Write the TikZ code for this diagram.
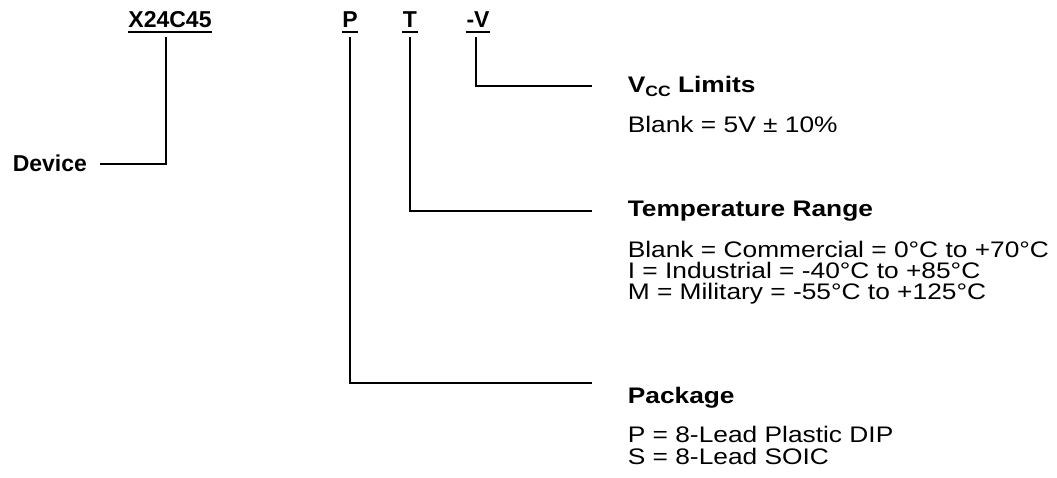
\documentclass[tikz,border=0pt]{standalone}
\usepackage{fontspec}
\setmainfont{Liberation Sans}
\newfontfamily\widefont{Liberation Sans}[FakeStretch=1.17]
\usetikzlibrary{positioning}

\begin{document}
\begin{tikzpicture}[x=1pt, y=-1pt, line width=1.6pt,
  every node/.style={inner sep=0pt, font=\fontsize{23}{23}\selectfont},
  code/.style={anchor=base, text depth=0pt, font=\fontsize{23}{23}\selectfont\bfseries},
  head/.style={anchor=base west, font=\widefont\fontsize{22.5}{22.5}\selectfont\bfseries},
  body/.style={align=left, font=\widefont\fontsize{22.5}{21}\selectfont}]
  \useasboundingbox (0,0) rectangle (1057,478);
  % part number
  \node (dev) [code] at (170,28) {X24C45};
  \node (pkg) [code] at (350,28) {P};
  \node (tmp) [code] at (410,28) {T};
  \node (vcc) [code] at (478,28) {-V};
  \foreach \n in {dev,pkg,tmp,vcc}
    \draw ([yshift=-4pt]\n.base west) -- ([yshift=-4pt]\n.base east);
  % labels
  \node (devlbl) [head, font=\fontsize{23}{23}\selectfont\bfseries] at (12,172) {Device};
  \node (vcchd) [head] at (627,93) {V\raisebox{-4pt}{\fontsize{15}{15}\selectfont CC} Limits};
  \node (vcctx) [body, below right=22pt and 0pt of vcchd.base west] {Blank = 5V ± 10\%};
  \node (tmphd) [head] at (627,217) {Temperature Range};
  \node (tmptx) [body, below right=23pt and 0pt of tmphd.base west] {Blank = Commercial = 0°C to +70°C\\I = Industrial = -40°C to +85°C\\M = Military = -55°C to +125°C};
  \node (pkghd) [head] at (627,403) {Package};
  \node (pkgtx) [body, below right=22pt and 0pt of pkghd.base west] {P = 8-Lead Plastic DIP\\[1pt]S = 8-Lead SOIC};
  % connectors
  \coordinate (vccend) at (592,86);
  \coordinate (tmpend) at (592,211);
  \coordinate (pkgend) at (592,383);
  \draw ([xshift=-4pt,yshift=-9pt]dev.base) |- ([xshift=12pt]devlbl.east);
  \draw ([yshift=-9pt]pkg.base) |- (pkgend);
  \draw ([yshift=-9pt]tmp.base) |- (tmpend);
  \draw ([xshift=-2pt,yshift=-9pt]vcc.base) |- (vccend);
\end{tikzpicture}
\end{document}
